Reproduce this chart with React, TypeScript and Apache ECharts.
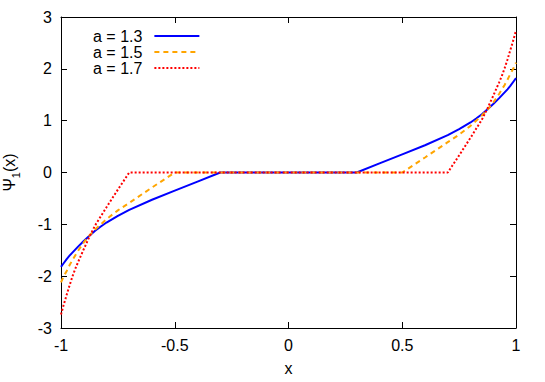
import React, { useEffect, useRef } from "react";
import * as echarts from "echarts";

const xTicks = [-1, -0.5, 0, 0.5, 1];
const yTicks = [-3, -2, -1, 0, 1, 2, 3];

const seriesNames = ["a = 1.3", "a = 1.5", "a = 1.7"];

const x13 = [-1, -0.99, -0.975, -0.9625, -0.95, -0.925, -0.9, -0.875, -0.85, -0.825, -0.8, -0.75, -0.7, -0.6, -0.5, -0.4, -0.3, 0.3, 0.4, 0.5, 0.6, 0.7, 0.75, 0.8, 0.825, 0.85, 0.875, 0.9, 0.925, 0.95, 0.9625, 0.975, 0.99, 1];
const y13 = [-1.82, -1.76, -1.67, -1.605, -1.545, -1.43, -1.32, -1.22, -1.125, -1.042, -0.965, -0.835, -0.72, -0.525, -0.35, -0.175, 0, 0, 0.175, 0.35, 0.525, 0.72, 0.835, 0.965, 1.042, 1.125, 1.22, 1.32, 1.43, 1.545, 1.605, 1.67, 1.76, 1.82];

const x15 = [-1, -0.99, -0.975, -0.9625, -0.95, -0.925, -0.9, -0.875, -0.85, -0.8, -0.75, -0.7, -0.6, -0.5, 0.5, 0.6, 0.7, 0.75, 0.8, 0.85, 0.875, 0.9, 0.925, 0.95, 0.9625, 0.975, 0.99, 1];
const y15 = [-2.12, -2.02, -1.9, -1.79, -1.69, -1.51, -1.35, -1.215, -1.1, -0.9, -0.73, -0.585, -0.29, 0, 0, 0.29, 0.585, 0.73, 0.9, 1.1, 1.215, 1.35, 1.51, 1.69, 1.79, 1.9, 2.02, 2.12];

const x17 = [-1, -0.99, -0.975, -0.9625, -0.95, -0.9375, -0.925, -0.9, -0.875, -0.85, -0.8, -0.75, -0.7, 0.7, 0.75, 0.8, 0.85, 0.875, 0.9, 0.925, 0.9375, 0.95, 0.9625, 0.975, 0.99, 1];
const y17 = [-2.74, -2.58, -2.36, -2.18, -2.01, -1.86, -1.73, -1.48, -1.24, -1.02, -0.67, -0.33, 0, 0, 0.33, 0.67, 1.02, 1.24, 1.48, 1.73, 1.86, 2.01, 2.18, 2.36, 2.58, 2.74];

const colors = ["#0000ff", "#ffa500", "#ff0000"];

const FONT = "Liberation Sans, Arial, Helvetica, sans-serif";

function zip(xs: number[], ys: number[]) {
  return xs.map((x, i) => [x, ys[i]]);
}

export default function App() {
  const ref = useRef<HTMLDivElement>(null);
  useEffect(() => {
    if (!ref.current) return;
    const chart = echarts.init(ref.current, undefined, { renderer: "svg" });
    const axisLine = { show: true, onZero: false, lineStyle: { color: "#000", width: 1 } };
    const tick = { show: true, inside: true, length: 6, lineStyle: { color: "#000", width: 1 } };
    const lineTypes: any[] = ["solid", [5, 4], [2, 2]];
    const series = [
      [x13, y13],
      [x15, y15],
      [x17, y17],
    ].map(([xs, ys], i) => ({
      name: seriesNames[i],
      type: "line",
      data: zip(xs, ys),
      smooth: false,
      showSymbol: false,
      symbol: "none",
      color: colors[i],
      lineStyle: { color: colors[i], width: 2, type: lineTypes[i] },
      z: 3 + i,
    }));
    chart.setOption({
      animation: false,
      backgroundColor: "#fff",
      grid: { left: 61, right: 29, top: 17, bottom: 54, outerBoundsMode: "none", containLabel: false },
      legend: {
        show: true,
        orient: "vertical",
        left: 88,
        top: 23,
        align: "right",
        itemWidth: 45,
        itemHeight: 12,
        itemGap: 0,
        data: seriesNames,
        itemStyle: { opacity: 0 },
        textStyle: { fontFamily: FONT, fontSize: 16, color: "#000", lineHeight: 15.5, padding: [0, 7, 0, 0] },
      },
      xAxis: [
        {
          type: "value",
          min: -1,
          max: 1,
          interval: 0.5,
          position: "bottom",
          name: "x",
          nameLocation: "middle",
          nameGap: 32,
          nameTextStyle: { fontFamily: FONT, fontSize: 16, color: "#000" },
          axisLine,
          axisTick: tick,
          splitLine: { show: false },
          axisLabel: {
            margin: 9,
            fontFamily: FONT,
            fontSize: 16,
            color: "#000",
            formatter: (v: number) => (xTicks.includes(v) ? String(v) : ""),
          },
        },
        {
          type: "value",
          min: -1,
          max: 1,
          interval: 0.5,
          position: "top",
          axisLine,
          axisTick: tick,
          splitLine: { show: false },
          axisLabel: { show: false },
        },
      ],
      yAxis: [
        {
          type: "value",
          min: -3,
          max: 3,
          interval: 1,
          position: "left",
          name: "{a|Ψ}{s|1}{a|(x)}",
          nameLocation: "middle",
          nameGap: 40,
          nameRotate: 90,
          nameTextStyle: {
            fontFamily: FONT,
            color: "#000",
            rich: {
              a: { fontFamily: FONT, fontSize: 16, color: "#000", verticalAlign: "top", lineHeight: 20 },
              s: { fontFamily: FONT, fontSize: 11, color: "#000", verticalAlign: "bottom" },
            },
          },
          axisLine,
          axisTick: tick,
          splitLine: { show: false },
          axisLabel: {
            margin: 9,
            fontFamily: FONT,
            fontSize: 16,
            color: "#000",
            formatter: (v: number) => (yTicks.includes(v) ? String(v) : ""),
          },
        },
        {
          type: "value",
          min: -3,
          max: 3,
          interval: 1,
          position: "right",
          axisLine,
          axisTick: tick,
          splitLine: { show: false },
          axisLabel: { show: false },
        },
      ],
      series,
    });
    return () => chart.dispose();
  }, []);
  return (
    <div
      ref={ref}
      style={{ position: "absolute", left: 0, top: 0, width: 545, height: 382 }}
    />
  );
}
